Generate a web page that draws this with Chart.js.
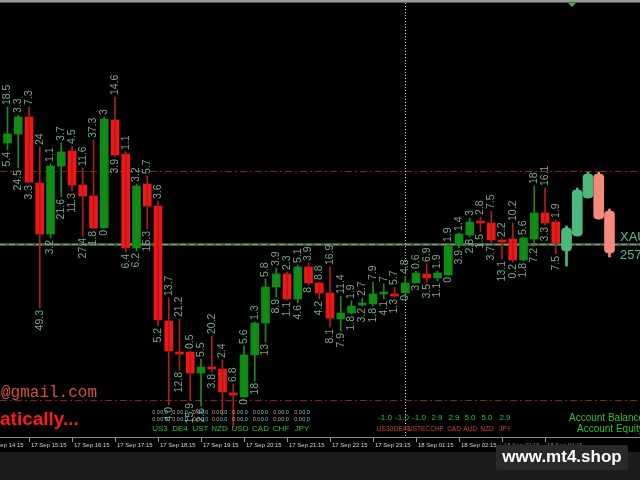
<!DOCTYPE html>
<html lang="en">
<head>
<meta charset="UTF-8">
<title>XAUUSD M15</title>
<script src="https://cdn.jsdelivr.net/npm/chart.js"></script>
<style>
  html, body { margin: 0; padding: 0; background: #000; overflow: hidden; }
  #chart { display: block; }
</style>
</head>
<body>
<canvas id="chart" width="640" height="480"></canvas>
<script>
// M15 candles (price units)
const opens  = [2585.7,2586.6,2588.3,2581.7,2576.6,2583.4,2584.9,2581.5,2580.4,2577.2,2588.0,2584.6,2575.2,2581.6,2579.4,2567.9,2564.8,2564.8,2562.7,2563.3,2563.1,2560.7,2560.3,2564.5,2567.7,2571.3,2572.6,2570.1,2573.3,2571.7,2570.7,2568.1,2568.7,2569.5,2569.6,2570.6,2570.6,2570.7,2571.7,2572.6,2572.2,2572.5,2575.5,2576.5,2577.9,2577.7,2576.0,2576.1,2574.0,2576.1,2578.7,2577.8,2574.9,2576.4,2580.2,2582.6,2578.9];
const highs  = [2589.3,2588.5,2589.3,2585.3,2583.6,2585.7,2585.4,2583.2,2586.0,2588.3,2590.3,2584.8,2581.6,2582.4,2579.9,2570.2,2568.1,2564.9,2564.1,2566.4,2564.0,2561.6,2565.4,2567.8,2572.1,2573.2,2572.8,2573.5,2573.7,2571.8,2573.3,2570.4,2569.9,2570.2,2571.8,2571.6,2571.3,2572.4,2572.9,2573.6,2572.9,2575.6,2576.7,2578.2,2578.3,2578.9,2576.1,2577.7,2576.3,2581.4,2581.2,2578.0,2577.4,2581.2,2582.8,2582.8,2579.1];
const lows   = [2585.0,2583.2,2581.7,2569.2,2576.2,2580.3,2580.9,2576.4,2577.1,2577.2,2584.3,2574.8,2574.9,2577.1,2567.4,2559.5,2563.0,2559.9,2559.4,2562.8,2558.5,2557.3,2560.3,2561.9,2565.8,2570.3,2570.0,2569.7,2571.5,2570.1,2567.3,2566.9,2568.6,2569.4,2569.4,2570.1,2570.3,2570.7,2571.7,2571.8,2571.9,2572.5,2575.2,2576.3,2576.8,2575.6,2574.1,2573.8,2573.9,2575.4,2577.5,2574.6,2573.4,2576.4,2580.2,2578.1,2574.3];
const closes = [2586.6,2588.3,2581.8,2576.6,2583.4,2584.8,2581.5,2580.4,2577.2,2588.1,2584.5,2575.2,2581.4,2579.4,2568.0,2564.9,2564.6,2562.7,2563.3,2563.1,2560.8,2560.5,2564.5,2567.7,2571.3,2572.6,2570.1,2573.3,2571.7,2570.7,2568.2,2568.7,2569.4,2569.7,2570.6,2570.8,2570.4,2571.7,2572.7,2572.2,2572.7,2575.4,2576.6,2577.8,2577.7,2576.0,2575.8,2574.0,2576.2,2578.7,2577.7,2575.7,2577.2,2581.0,2582.6,2578.1,2574.7];

// wick sizes printed above / below each candle
const topMarks    = ['18.5','3.3','7.3','24','1.1','3.7','4.5','11.6','37.3','3','14.6','1.1','3.2','5.7','3.6','13.7','21.2','0.5','5.5','20.2','2.4','6.8','5.6','1.3','5.8','3.9','2.3','5.1','3.9','8.8','16.9','11.4','1.9','2.7','7.9','7','5.7','4.8','0.6','6.9','1.9','1.9','1.4','3','2.8','7.5','2.2','10.2','5.6','18','16.1','1.9'];
const bottomMarks = ['5.4','24.5','3.3','49.3','3.2','21.6','11.3','27.4','1.8','0','3.9','6.4','6.2','15.3','5.2','4.0','12.8','15.9','2.6','3.8','','','0','18','13','8.9','1.1','4.6','8','4.2','8.1','7.9','1.8','3.2','1.8','4.1','1.3','0','3','3.5','1.1','0','3.9','2.8','1.5','3.7','13.1','0.2','1.8','7.2','3.3','7.5'];

// the last candles are the higher-timeframe overlay
const projectedFrom = 52;

// time axis
const timeIdx  = [-2, 2, 6, 10, 14, 18, 22, 26, 30, 34, 38, 42, 46, 50];
const timeText = ['17 Sep 14:15','17 Sep 15:15','17 Sep 16:15','17 Sep 17:15','17 Sep 18:15','17 Sep 19:15','17 Sep 20:15','17 Sep 21:15','17 Sep 22:15','17 Sep 23:15','18 Sep 01:15','18 Sep 02:15','18 Sep 03:15','18 Sep 04:15'];

// levels
const upperLevel = 2582.9;
const bidLevel = 2575.6;
const lowerLevel = 2560.0;
const separatorIdx = 37;

// dashboard text
const leftNames = ['US3','DE4','UST','NZD','USD','CAD','CHF','JPY'];
const basketValues = ['-1.0','-1.0','-1.0','2.9','2.9','5.0','5.0','2.9'];
const basketNames = ['US30','DE40','USTEC','CHF','CAD','AUD','NZD','JPY'];

const FONT = '"Liberation Sans", Arial, sans-serif';
const isUp = i => closes[i] >= opens[i];
const all = opens.map((_, i) => i);
const small = all.filter(i => i < projectedFrom);
const big = all.filter(i => i >= projectedFrom);

const wickData = list => list.map(i => ({ x: i, y: [lows[i], highs[i]] }));
const bodyData = list => list.map(i => ({ x: i, y: [opens[i], closes[i]] }));

const terminal = {
  id: 'terminal',
  beforeDraw(chart) {
    const ctx = chart.ctx, xs = chart.scales.x, ys = chart.scales.y;
    ctx.save();
    ctx.fillStyle = '#000';
    ctx.fillRect(0, 0, 640, 480);
    // top bar
    ctx.fillStyle = '#9a9a9a';
    ctx.fillRect(0, 0, 640, 2);
    ctx.fillStyle = '#555';
    ctx.fillRect(0, 2, 640, 1);
    ctx.fillStyle = '#2fc02f';
    ctx.beginPath();
    ctx.moveTo(568, 3); ctx.lineTo(576, 3); ctx.lineTo(572, 7); ctx.closePath();
    ctx.fill();

    // red dash-dot levels
    ctx.strokeStyle = '#8a1e1e';
    ctx.lineWidth = 1;
    ctx.setLineDash([7, 3, 2, 3]);
    [upperLevel, lowerLevel].forEach(v => {
      const y = Math.round(ys.getPixelForValue(v)) + 0.5;
      ctx.beginPath(); ctx.moveTo(0, y); ctx.lineTo(640, y); ctx.stroke();
    });

    // bid line
    const yb = Math.round(ys.getPixelForValue(bidLevel));
    ctx.setLineDash([]);
    ctx.fillStyle = '#3a583c';
    ctx.fillRect(0, yb - 1, 640, 3);
    ctx.strokeStyle = '#7c9c68';
    ctx.setLineDash([6, 3]);
    ctx.beginPath(); ctx.moveTo(0, yb + 0.5); ctx.lineTo(640, yb + 0.5); ctx.stroke();

    // period separator
    const xv = Math.round(xs.getPixelForValue(separatorIdx)) + 0.5;
    ctx.strokeStyle = '#d8d8d8';
    ctx.setLineDash([1, 2]);
    ctx.beginPath(); ctx.moveTo(xv, 3); ctx.lineTo(xv, 437); ctx.stroke();
    ctx.restore();
  },
  afterDatasetsDraw(chart) {
    const ctx = chart.ctx, xs = chart.scales.x, ys = chart.scales.y;
    ctx.save();

    // wick size labels
    ctx.font = '10.5px ' + FONT;
    ctx.fillStyle = '#78a88a';
    ctx.textBaseline = 'middle';
    for (let i = 0; i < projectedFrom; i++) {
      const x = xs.getPixelForValue(i);
      if (topMarks[i]) {
        ctx.save();
        ctx.translate(x, ys.getPixelForValue(highs[i]) - 2);
        ctx.rotate(-Math.PI / 2);
        ctx.textAlign = 'left';
        ctx.fillText(topMarks[i], 0, 0);
        ctx.restore();
      }
      if (bottomMarks[i]) {
        ctx.save();
        ctx.translate(x, ys.getPixelForValue(lows[i]) + 2);
        ctx.rotate(-Math.PI / 2);
        ctx.textAlign = 'right';
        ctx.fillText(bottomMarks[i], 0, 0);
        ctx.restore();
      }
    }

    // symbol / price at the right edge
    ctx.textAlign = 'left';
    ctx.fillStyle = '#5cb888';
    ctx.font = '13px ' + FONT;
    ctx.fillText('XAUUSD', 620, 237);
    ctx.fillText('2575.60', 620, 255);

    // watermark texts (scrolled off the left edge)
    ctx.textBaseline = 'alphabetic';
    ctx.textAlign = 'right';
    ctx.font = '16px "Liberation Mono", "Courier New", monospace';
    ctx.fillStyle = '#d9522e';
    ctx.fillText('info@gmail.com', 97, 397);
    ctx.textAlign = 'left';
    ctx.font = 'bold 19px ' + FONT;
    ctx.fillStyle = '#ff1a1a';
    ctx.fillText('Automatically...', -ctx.measureText('Autom').width, 425);

    // left currency panel
    ctx.textAlign = 'center';
    ctx.textBaseline = 'middle';
    const leftX = [160, 180, 200.5, 219.5, 240, 260.5, 281, 302];
    leftNames.forEach((name, k) => {
      const c = leftX[k];
      ctx.font = '5.5px ' + FONT;
      [412, 419].forEach(y => {
        ctx.fillStyle = '#c8a474';
        ctx.fillText('0.0', c - 4, y);
        ctx.fillStyle = '#6cc8d6';
        ctx.fillText('0.0', c + 4, y);
      });
      ctx.font = '8px ' + FONT;
      ctx.fillStyle = '#2ec02e';
      ctx.fillText(name, c, 429);
    });

    // right basket panel
    const rightX = [385, 402, 419, 437, 454, 470, 487, 505];
    basketNames.forEach((name, k) => {
      ctx.font = '8px ' + FONT;
      ctx.fillStyle = '#2ec02e';
      ctx.fillText(basketValues[k], rightX[k], 418);
      ctx.font = '6.5px ' + FONT;
      ctx.fillStyle = '#d8432c';
      ctx.fillText(name, rightX[k], 429);
    });

    ctx.textAlign = 'left';
    ctx.font = '10px ' + FONT;
    ctx.fillStyle = '#2ec02e';
    ctx.fillText('Account Balance', 569, 418);
    ctx.fillText('Account Equity', 577, 429);

    // time axis
    ctx.fillStyle = '#8c8c8c';
    ctx.fillRect(0, 437, 640, 1);
    ctx.fillStyle = '#1c1c1c';
    ctx.fillRect(0, 452, 640, 28);
    ctx.font = '6px ' + FONT;
    timeIdx.forEach((t, k) => {
      const x = Math.round(xs.getPixelForValue(t));
      ctx.fillStyle = '#9a9a9a';
      ctx.fillRect(x, 438, 1, 4);
      ctx.fillStyle = t >= 46 ? '#777' : '#d4d4d4';
      ctx.fillText(timeText[k], x + 2, 445);
    });

    // site badge
    ctx.fillStyle = '#292929';
    ctx.beginPath();
    ctx.roundRect(496, 445, 132, 25, 3);
    ctx.fill();
    ctx.fillStyle = '#ffffff';
    ctx.font = 'bold 17px ' + FONT;
    ctx.textAlign = 'center';
    ctx.fillText('www.mt4.shop', 562, 457);
    ctx.restore();
  }
};

new Chart(document.getElementById('chart').getContext('2d'), {
  type: 'bar',
  data: {
    datasets: [
      { data: wickData(small), backgroundColor: small.map(i => isUp(i) ? '#1d8a20' : '#a82020'), barThickness: 1, grouped: false },
      { data: bodyData(small), backgroundColor: small.map(i => isUp(i) ? '#0d8c12' : '#f41515'), barThickness: 8, grouped: false },
      { data: wickData(big), backgroundColor: big.map(i => isUp(i) ? '#4cb87c' : '#f48a7c'), barThickness: 2, grouped: false },
      { data: bodyData(big), backgroundColor: big.map(i => isUp(i) ? '#4cb87c' : '#f48a7c'), barThickness: 10, borderRadius: 4, borderSkipped: false, grouped: false }
    ]
  },
  options: {
    responsive: false,
    animation: false,
    layout: { padding: 0 },
    plugins: { legend: { display: false }, tooltip: { enabled: false } },
    scales: {
      x: { type: 'linear', min: -0.698, max: 58.837, offset: false, display: false },
      y: { min: 2552, max: 2600, display: false }
    }
  },
  plugins: [terminal]
});
</script>
</body>
</html>
